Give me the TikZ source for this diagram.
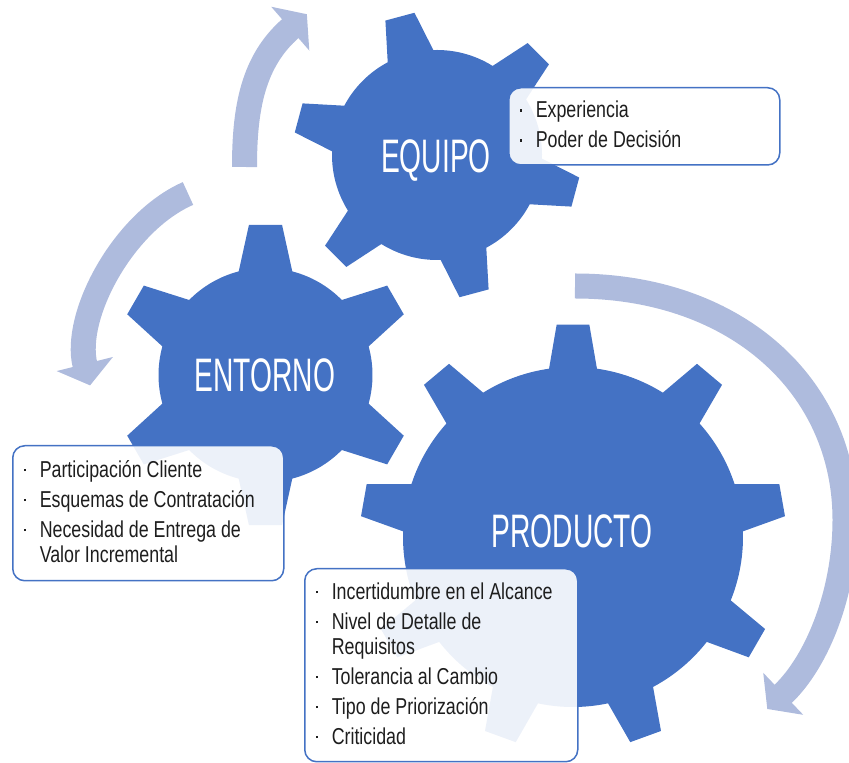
\documentclass[tikz,border=0pt]{standalone}
\usepackage{fontspec}
\setmainfont{Liberation Sans}[FakeStretch=0.775]
\newfontfamily\gearfont{Liberation Sans}[FakeStretch=0.6]
\usetikzlibrary{positioning}

\definecolor{gearblue}{HTML}{4472C4}
\definecolor{arrowblue}{HTML}{AEBBDD}
\definecolor{itemtext}{HTML}{1E1E1E}

% one bullet line of a list box
\newcommand{\bitem}[1]{\par\hangindent=19pt\hangafter=1\noindent\makebox[19pt][l]{\hspace{3pt}\raisebox{6pt}{\rule{2.5pt}{2.5pt}}}#1\par}

% gear: x, y, teeth, first tooth angle, inner radius, outer radius, half tooth top, half tooth base
\newcommand{\gear}[8]{%
\begin{scope}[shift={(#1,#2)}]
\fill[gearfill] ({#4-#8}:#5pt)
  \foreach \k [evaluate=\k as \ang using #4+(\k-1)*360/#3] in {1,...,#3}{
    -- ({\ang-#8}:#5pt) -- ({\ang-#7}:#6pt) -- ({\ang+#7}:#6pt) -- ({\ang+#8}:#5pt)
    arc[start angle={\ang+#8}, end angle={\ang+360/#3-#8}, radius=#5pt]
  } -- cycle;
\end{scope}}

\tikzset{
  gearfill/.style = {fill = gearblue},
  gearlabel/.style = {text = white, anchor = base, inner sep = 0pt, font = {\gearfont\fontsize{47}{50}\selectfont}},
  cyclearrow/.style = {draw = arrowblue, line width = 25pt},
  arrowhead/.style = {fill = arrowblue},
  infobox/.style = {draw = gearblue, line width = 1.5pt, fill = white, fill opacity = 0.9, text opacity = 1,
    rounded corners = 12pt, anchor = north west, inner xsep = 8pt, inner ysep = 0pt, align = flush left,
    text = itemtext, font = {\fontsize{23}{25}\selectfont},
    execute at begin node = {\setlength{\parskip}{5pt}},
    execute at end node = {\vspace{17pt}}}
}

\begin{document}
\begin{tikzpicture}[x = 1pt, y = 1pt]
\useasboundingbox (0,0) rectangle (849,763);
\clip (0,0) rectangle (849,763);

% arrows
\coordinate (a1s) at (244.5,596);
\coordinate (a1e) at (291,735);
\draw[cyclearrow] (a1s) .. controls (244.5,655) and (253,702) .. (a1e);
\fill[arrowhead, shift = {(a1e)}, rotate = 41] (-1,-29) -- (21,0) -- (-1,29) -- cycle;

\coordinate (a2s) at (188,569.5);
\coordinate (a2e) at (85,398);
\draw[cyclearrow] (a2s) .. controls (123,541) and (73,447) .. (a2e);
\fill[arrowhead, shift = {(a2e)}, rotate = -76] (-1,-29) -- (21,0) -- (-1,29) -- cycle;

\coordinate (a3s) at (575,477);
\coordinate (a3m) at (845,243);
\coordinate (a3e) at (782.5,68.5);
\draw[cyclearrow] (a3s) .. controls (735,477) and (845,378) .. (a3m) .. controls (845,173) and (818.7,103) .. (a3e);
\fill[arrowhead, shift = {(a3e)}, rotate = 223.6] (-1,-29) -- (21,0) -- (-1,29) -- cycle;

% gears
\gear{437}{608}{6}{45}{105}{144}{6}{13}
\gear{265.5}{388}{6}{30}{107}{151}{6.3}{14.5}
\gear{573}{226}{9}{10}{170}{213}{4.4}{8.1}

\node[gearlabel] (equipo) at (436,590) {EQUIPO};
\node[gearlabel] (entorno) at (265,371) {ENTORNO};
\node[gearlabel] (producto) at (572,215) {PRODUCTO};

% lists
\node[infobox, text width = 255pt, minimum height = 76pt] (equipolist) at (508,676) {%
\bitem{Experiencia}
\bitem{Poder de Decisión}};
\node[infobox, text width = 255pt, minimum height = 135pt] (entornolist) at (12,318) {%
\bitem{Participación Cliente}
\bitem{Esquemas de Contratación}
\bitem{Necesidad de Entrega de\newline Valor Incremental}};
\node[infobox, text width = 257pt, minimum height = 193pt] (productolist) at (304,195) {%
\bitem{Incertidumbre en el Alcance}
\bitem{Nivel de Detalle de\newline Requisitos}
\bitem{Tolerancia al Cambio}
\bitem{Tipo de Priorización}
\bitem{Criticidad}};
\end{tikzpicture}
\end{document}
